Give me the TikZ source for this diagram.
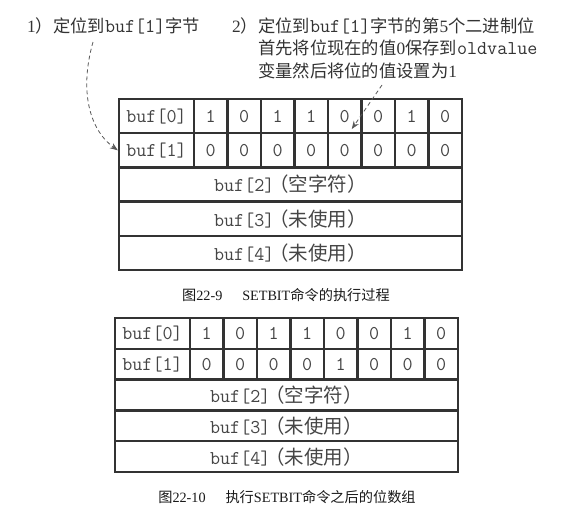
\documentclass[tikz,border=0pt]{standalone}
\usepackage{fontspec}
\setmainfont{Liberation Serif}
\newfontfamily\cjk{Noto Sans CJK SC}
\usetikzlibrary{arrows.meta}

\newcommand{\zh}[1]{{\cjk #1}}
\newcommand{\code}[1]{{\fontsize{19.5}{22.5}\selectfont\ttfamily #1}}
\definecolor{inkgray}{HTML}{333333}
\definecolor{cellgray}{HTML}{454545}

\tikzset{
  note/.style={inner sep=0pt,text=inkgray,font=\fontsize{17.3}{22.5}\selectfont},
  cell/.style={draw=inkgray,line width=2.3pt,inner sep=0pt,text=cellgray,font=\fontsize{19.5}{20}\selectfont\ttfamily},
  caption/.style={inner sep=0pt,text=black!90,font=\fontsize{14.2}{16}\selectfont},
  pointer/.style={draw=black!65,line width=0.8pt,dash pattern=on 4pt off 3pt,-{Stealth[length=8pt,width=6pt]}}
}

\begin{document}
\begin{tikzpicture}[x=1pt,y=-1pt]
 \fill[white] (0,0) rectangle (566,522);
 \useasboundingbox (0,0) rectangle (566,522);
 % notes above the first table
 \node[note,anchor=north west] (step1) at (27,17) {1\zh{）定位到}\code{buf[1]}\zh{字节}};
 \node[note,anchor=north west,align=left] (step2) at (232,17) {2\zh{）定位到}\code{buf[1]}\zh{字节的第}5\zh{个二进制位}\\
   \hphantom{2\zh{）}}\zh{首先将位现在的值}0\zh{保存到}\code{oldvalue}\\
   \hphantom{2\zh{）}}\zh{变量然后将位的值设置为}1};
 % table before SETBIT
 \foreach \r/\bits in {0/{1,0,1,1,0,0,1,0},1/{0,0,0,0,0,0,0,0}} {
   \node[cell,minimum width=75,minimum height=34.2] (ta\r) at (156.5,{116.1+34.2*\r}) {buf[\r]};
   \foreach \b [count=\i] in \bits
     \node[cell,minimum width=33.5,minimum height=34.2] (ta\r-\i) at ({177.25+33.5*\i},{116.1+34.2*\r}) {\b};
 }
 \foreach \r/\what in {2/空字符,3/未使用,4/未使用}
   \node[cell,minimum width=343,minimum height=34.2] (ta\r) at (290.5,{116.1+34.2*\r}) {buf[\r]\kern-5pt\zh{（\what）}};
 \node[caption] (cap1) at (286,295) {\zh{图}22-9\hspace{1.4em}SETBIT\zh{命令的执行过程}};
 % pointers
 \coordinate (from1) at (93,42);
 \coordinate (from2) at (382,85);
 \draw[pointer] (from1) .. controls (78,95) and (92,132) .. (ta1.west);
 \draw[pointer] (from2) -- ([xshift=7pt,yshift=3pt]ta1-5.north);
 % table after SETBIT
 \foreach \r/\bits in {0/{1,0,1,1,0,0,1,0},1/{0,0,0,0,1,0,0,0}} {
   \node[cell,minimum width=75,minimum height=30.8] (tb\r) at (152.5,{333.4+30.8*\r}) {buf[\r]};
   \foreach \b [count=\i] in \bits
     \node[cell,minimum width=33.5,minimum height=30.8] (tb\r-\i) at ({173.25+33.5*\i},{333.4+30.8*\r}) {\b};
 }
 \foreach \r/\what in {2/空字符,3/未使用,4/未使用}
   \node[cell,minimum width=343,minimum height=30.8] (tb\r) at (286.5,{333.4+30.8*\r}) {buf[\r]\kern-5pt\zh{（\what）}};
 \node[caption] (cap2) at (287,497) {\zh{图}22-10\hspace{1.4em}\zh{执行}SETBIT\zh{命令之后的位数组}};
\end{tikzpicture}
\end{document}
